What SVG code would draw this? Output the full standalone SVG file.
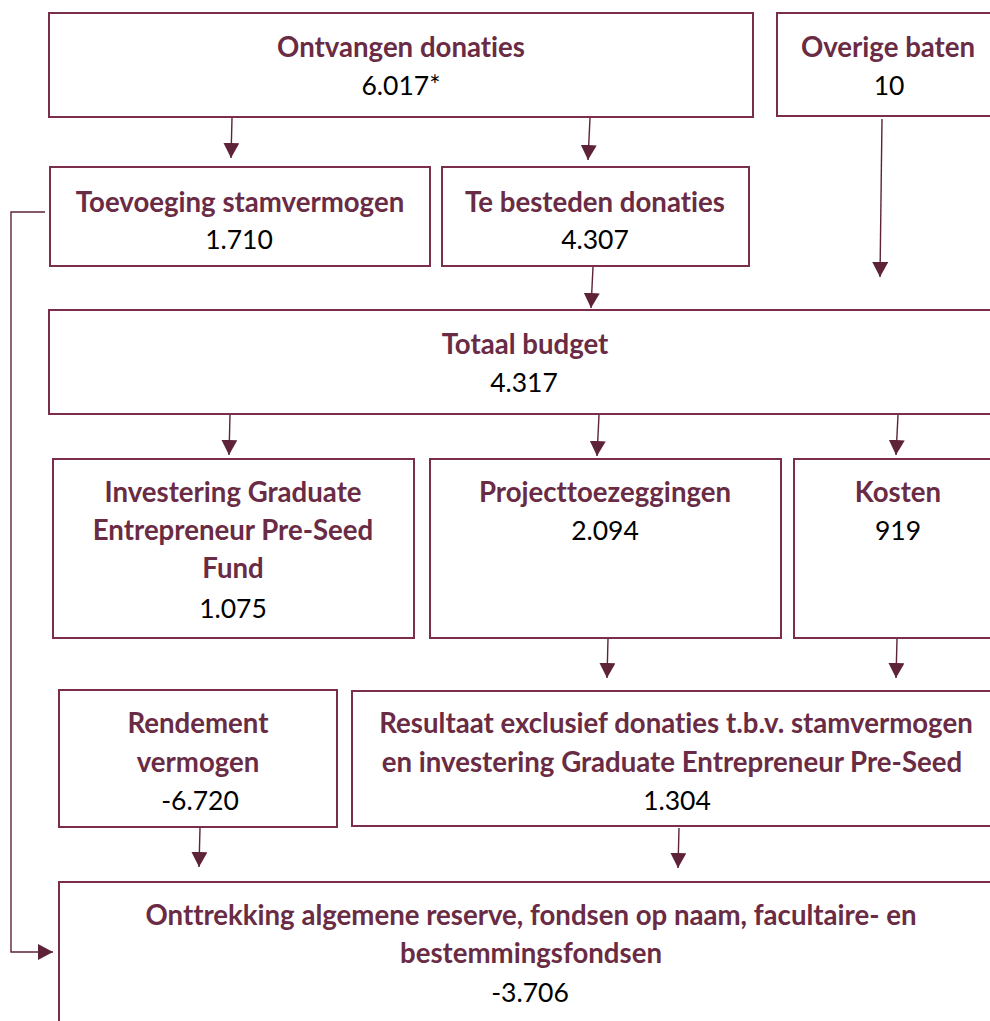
<svg xmlns="http://www.w3.org/2000/svg" width="990" height="1021" viewBox="0 0 990 1021">
<defs>
<style>
.box{fill:#fff;stroke:#7a2e4b;stroke-width:2}
.t{font-family:Lato,"Liberation Sans",sans-serif;font-weight:bold;font-size:27.6px;fill:#6a2b44;text-anchor:middle;font-variant-ligatures:none}
.n{font-family:Lato,"Liberation Sans",sans-serif;font-size:26.5px;fill:#000;text-anchor:middle;font-variant-ligatures:none}
.c{fill:none;stroke:#5e2339;stroke-width:1.4}
</style>
<marker id="ah" viewBox="0 0 15 16" refX="15" refY="8" markerWidth="15" markerHeight="16" markerUnits="userSpaceOnUse" orient="auto">
<path d="M0,0 L15,8 L0,16 z" fill="#5e2339"/>
</marker>
</defs>
<rect width="990" height="1021" fill="#fff"/>
<g id="connectors">
<line class="c" x1="232" y1="118" x2="231" y2="158" marker-end="url(#ah)"/>
<line class="c" x1="590" y1="118" x2="588" y2="160" marker-end="url(#ah)"/>
<line class="c" x1="882" y1="119" x2="880" y2="277" marker-end="url(#ah)"/>
<line class="c" x1="593" y1="267" x2="591" y2="308" marker-end="url(#ah)"/>
<line class="c" x1="230" y1="415" x2="229" y2="455" marker-end="url(#ah)"/>
<line class="c" x1="599" y1="415" x2="597" y2="456" marker-end="url(#ah)"/>
<line class="c" x1="898" y1="415" x2="896" y2="455" marker-end="url(#ah)"/>
<line class="c" x1="608" y1="639" x2="607" y2="678" marker-end="url(#ah)"/>
<line class="c" x1="897" y1="639" x2="896" y2="678" marker-end="url(#ah)"/>
<line class="c" x1="200" y1="828" x2="199" y2="867" marker-end="url(#ah)"/>
<line class="c" x1="679" y1="828" x2="678" y2="868" marker-end="url(#ah)"/>
<polyline class="c" points="45,212 11,212 11,952 53,952" marker-end="url(#ah)"/>
</g>
<g id="ontvangen">
<rect class="box" x="49" y="13" width="704" height="104"/>
<text class="t" x="401" y="57">Ontvangen donaties</text>
<text class="n" x="401" y="95">6.017*</text>
</g>
<g id="overige">
<rect class="box" x="777" y="13" width="230" height="103"/>
<text class="t" x="888" y="57">Overige baten</text>
<text class="n" x="889" y="95">10</text>
</g>
<g id="toevoeging">
<rect class="box" x="50" y="167" width="380" height="99"/>
<text class="t" x="240" y="212">Toevoeging stamvermogen</text>
<text class="n" x="239" y="249">1.710</text>
</g>
<g id="tebesteden">
<rect class="box" x="442" y="167" width="307" height="99"/>
<text class="t" x="595" y="212">Te besteden donaties</text>
<text class="n" x="595" y="249">4.307</text>
</g>
<g id="totaal">
<rect class="box" x="49" y="310" width="960" height="104"/>
<text class="t" x="525" y="354">Totaal budget</text>
<text class="n" x="524" y="392">4.317</text>
</g>
<g id="investering">
<rect class="box" x="53" y="459" width="361" height="179"/>
<text class="t" x="233" y="502">Investering Graduate</text>
<text class="t" x="233" y="540">Entrepreneur Pre-Seed</text>
<text class="t" x="233" y="578">Fund</text>
<text class="n" x="233" y="618">1.075</text>
</g>
<g id="project">
<rect class="box" x="430" y="459" width="351" height="179"/>
<text class="t" x="605" y="502">Projecttoezeggingen</text>
<text class="n" x="605" y="540">2.094</text>
</g>
<g id="kosten">
<rect class="box" x="794" y="459" width="215" height="179"/>
<text class="t" x="898" y="502">Kosten</text>
<text class="n" x="898" y="540">919</text>
</g>
<g id="rendement">
<rect class="box" x="59" y="690" width="278" height="137"/>
<text class="t" x="198" y="733">Rendement</text>
<text class="t" x="198" y="772">vermogen</text>
<text class="n" x="200" y="810">-6.720</text>
</g>
<g id="resultaat">
<rect class="box" x="352" y="691" width="657" height="135"/>
<text class="t" x="676" y="733">Resultaat exclusief donaties t.b.v. stamvermogen</text>
<text class="t" x="672" y="772">en investering Graduate Entrepreneur Pre-Seed</text>
<text class="n" x="677" y="810">1.304</text>
</g>
<g id="onttrekking">
<rect class="box" x="59" y="882" width="950" height="160"/>
<text class="t" x="531" y="925">Onttrekking algemene reserve, fondsen op naam, facultaire- en</text>
<text class="t" x="531" y="963">bestemmingsfondsen</text>
<text class="n" x="530" y="1002">-3.706</text>
</g>
</svg>
